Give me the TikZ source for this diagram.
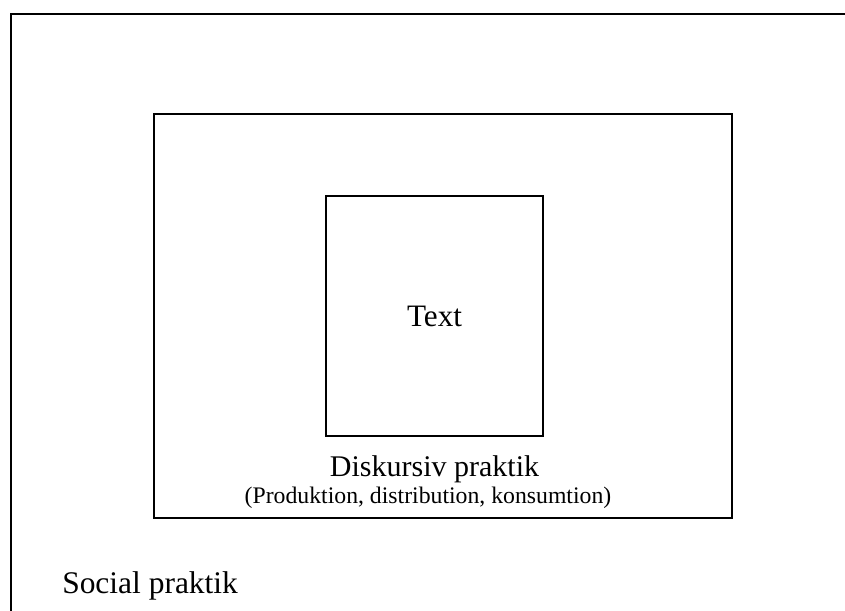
\documentclass[tikz,border=0pt]{standalone}
\usepackage{fontspec}
\setmainfont{Liberation Serif}
\begin{document}
\begin{tikzpicture}[x=0.75pt,y=-0.75pt,
  frame/.style={draw=black,line width=1.6pt,fill=none},
  lbl/.style={inner sep=0pt,anchor=base,text=black}]
\useasboundingbox (0,0) rectangle (845,610);
\begin{scope}
\clip (0,0) rectangle (845,610);
\draw[frame] (11,14) rectangle (860,625);
\end{scope}
\node[frame,minimum width=578*0.75pt,minimum height=404*0.75pt,inner sep=0pt,anchor=north west] (mid) at (153,113) {};
\node[frame,minimum width=217*0.75pt,minimum height=240*0.75pt,inner sep=0pt,anchor=north west] (inner) at (325,195) {};
\node[lbl,font=\fontsize{23.4pt}{28pt}\selectfont] (text) at (inner.center |- 0,326) {Text};
\node[lbl,font=\fontsize{22.5pt}{27pt}\selectfont] (disk) at (inner.center |- 0,476) {Diskursiv praktik};
\node[lbl,font=\fontsize{17.8pt}{21pt}\selectfont] (prod) at (428,503) {(Produktion, distribution, konsumtion)};
\node[lbl,anchor=base west,font=\fontsize{23.6pt}{28pt}\selectfont] (social) at (62,593) {Social praktik};
\end{tikzpicture}
\end{document}
